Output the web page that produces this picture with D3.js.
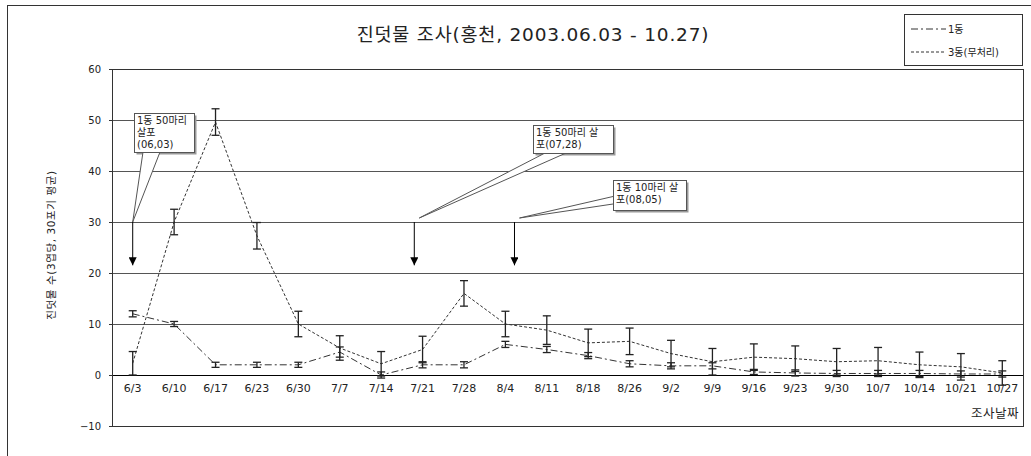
<!DOCTYPE html>
<meta charset="utf-8">
<style>
body { margin: 0; background: #fff; }
text { font-family: "DejaVu Sans", "Noto Sans CJK KR", sans-serif; fill: #222; }
</style>
<svg width="1031" height="456"></svg>
<script src="https://d3js.org/d3.v7.min.js"></script>
<script>

var dates = ["6/3","6/10","6/17","6/23","6/30","7/7","7/14","7/21","7/28","8/4","8/11",
             "8/18","8/26","9/2","9/9","9/16","9/23","9/30","10/7","10/14","10/21","10/27"];
var dong1 = [12, 10, 2, 2, 2, 4.5, 0, 2, 2, 6, 5, 3.8, 2.2, 1.8, 1.8, 0.6, 0.4, 0.3, 0.3, 0.3, 0.2, 0.2];
var err1  = [0.6, 0.5, 0.5, 0.5, 0.5, 1.0, 0.6, 0.6, 0.6, 0.6, 0.6, 0.6, 0.6, 0.6, 0.6, 0.5, 0.6, 0.6, 0.6, 0.6, 0.6, 0.6];
var dong3 = [2.3, 30, 49.6, 27.3, 10, 5.3, 2.2, 5, 16, 10, 8.8, 6.3, 6.6, 4.2, 2.6, 3.5, 3.2, 2.6, 2.8, 2, 1.6, 0.4];
var err3  = [2.3, 2.5, 2.6, 2.6, 2.5, 2.4, 2.4, 2.6, 2.5, 2.5, 2.8, 2.7, 2.6, 2.6, 2.6, 2.6, 2.5, 2.6, 2.6, 2.5, 2.6, 2.4];
var yTicks = [-10, 0, 10, 20, 30, 40, 50, 60];

var seriesNames = ["1동", "3동(무처리)"];
var dashes = ["7,3,2,3", "3,2"];

// callouts: arrow position (fractional date index), box text
var notes = [
  {at: 0,    text: ["1동 50마리", "살포", "(06,03)"], bx: 134, by: 113, bw: 60, bh: 39, tail: [143, 160]},
  {at: 6.8,  text: ["1동 50마리 살", "포(07,28)"],     bx: 533, by: 125, bw: 80, bh: 28, tail: [545, 566]},
  {at: 9.22, text: ["1동 10마리 살", "포(08,05)"],     bx: 613, by: 180, bw: 73, bh: 30, tail: null}
];

var svg = d3.select("svg"),
    margin = {top: 69, left: 112},
    width = 1023 - margin.left,
    height = 426 - margin.top;

// outer frame
svg.append("rect").attr("x", 7.5).attr("y", 5.5).attr("width", 1040).attr("height", 470)
    .attr("fill", "none").attr("stroke", "#333");

var x = d3.scaleBand().domain(dates).range([margin.left, margin.left + width]).padding(0),
    xi = d3.scaleLinear().domain([0, dates.length - 1])
        .range([x(dates[0]) + x.bandwidth() / 2, x(dates[dates.length - 1]) + x.bandwidth() / 2]),
    y = d3.scaleLinear().domain([-10, 60]).range([margin.top + height, margin.top]);

var cx = function(i) { return x(dates[i]) + x.bandwidth() / 2; };

// gridlines
svg.append("g").selectAll("line")
    .data(yTicks.filter(function(t) { return t > -10 && t < 60; }))
  .enter().append("line")
    .attr("x1", margin.left - 3).attr("x2", margin.left + width)
    .attr("y1", function(d) { return Math.round(y(d)) + 0.5; })
    .attr("y2", function(d) { return Math.round(y(d)) + 0.5; })
    .attr("stroke", function(d) { return d === 0 ? "#000" : "#555"; });

svg.append("rect")
    .attr("x", margin.left + 0.5).attr("y", margin.top + 0.5)
    .attr("width", width).attr("height", height)
    .attr("fill", "none").attr("stroke", "#333");

// y axis labels
var yAxis = d3.axisLeft(y).tickValues(yTicks).tickSize(3).tickPadding(8);
var gy = svg.append("g").attr("transform", "translate(" + margin.left + ",0)").call(yAxis);
gy.select(".domain").remove();
gy.selectAll("line").attr("stroke", "#333");
gy.selectAll("text").attr("font-size", 10).attr("fill", "#222")
    .style("font-family", "'DejaVu Sans', sans-serif");

// x axis labels
var xAxis = d3.axisBottom(x).tickSize(0).tickPadding(9);
var gx = svg.append("g").attr("transform", "translate(0," + y(0) + ")").call(xAxis);
gx.select(".domain").remove();
gx.selectAll("text").attr("font-size", 11).attr("fill", "#222")
    .style("font-family", "'DejaVu Sans', sans-serif");

// title and axis titles
svg.append("text").attr("x", 533).attr("y", 41).attr("text-anchor", "middle")
    .attr("font-size", 18.5).attr("letter-spacing", 0.8).attr("fill", "#3a3a3a")
    .text("진덧물 조사(홍천, 2003.06.03 - 10.27)");
svg.append("text").attr("x", 1019).attr("y", 418).attr("text-anchor", "end")
    .attr("font-size", 12.5).attr("letter-spacing", 0.5).text("조사날짜");
svg.append("text").attr("transform", "translate(55,245) rotate(-90)")
    .attr("text-anchor", "middle").attr("font-size", 10.5).attr("letter-spacing", 0.6)
    .attr("fill", "#222")
    .text("진덧물 수(3엽당, 30포기 평균)");

// lines
var line = d3.line().x(function(d, i) { return cx(i); }).y(function(d) { return y(d); });
[dong1, dong3].forEach(function(s, k) {
  svg.append("path").datum(s).attr("d", line)
      .attr("fill", "none").attr("stroke", "#333").attr("stroke-width", 1)
      .attr("stroke-dasharray", dashes[k]);
});

// error bars
[[dong1, err1], [dong3, err3]].forEach(function(p) {
  var g = svg.append("g").attr("stroke", "#222").attr("stroke-width", 1.3);
  p[0].forEach(function(v, i) {
    var lo = y(v - p[1][i]), hi = y(v + p[1][i]), xx = cx(i);
    g.append("line").attr("x1", xx).attr("x2", xx).attr("y1", lo).attr("y2", hi);
    g.append("line").attr("x1", xx - 4).attr("x2", xx + 4).attr("y1", lo).attr("y2", lo);
    g.append("line").attr("x1", xx - 4).attr("x2", xx + 4).attr("y1", hi).attr("y2", hi);
  });
});

// arrows
svg.append("defs").append("marker").attr("id", "ah")
    .attr("viewBox", "0 0 10 10").attr("refX", 10).attr("refY", 5)
    .attr("markerWidth", 8).attr("markerHeight", 8).attr("markerUnits", "userSpaceOnUse")
    .attr("orient", "auto")
  .append("path").attr("d", "M0,0L10,5L0,10z").attr("fill", "#000");

notes.forEach(function(n) {
  var ax = xi(n.at);
  svg.append("line").attr("x1", ax).attr("x2", ax).attr("y1", y(30)).attr("y2", y(21.5))
      .attr("stroke", "#000").attr("marker-end", "url(#ah)");
  // tail
  var tip = [ax + (n.at > 0 ? 5 : 0), y(30) - (n.at > 0 ? 4 : 0)], pts;
  if (n.tail) {
    pts = [[n.tail[0], n.by + n.bh], tip, [n.tail[1], n.by + n.bh]];
  } else {
    pts = [[n.bx, n.by + n.bh * 0.55], tip, [n.bx, n.by + n.bh * 0.8]];
  }
  svg.append("rect").attr("x", n.bx + 2.5).attr("y", n.by + 2.5).attr("width", n.bw).attr("height", n.bh)
      .attr("fill", "#999");
  svg.append("path").attr("d", "M" + pts.join("L")).attr("fill", "#fff").attr("stroke", "#555");
  svg.append("rect").attr("x", n.bx + 0.5).attr("y", n.by + 0.5).attr("width", n.bw).attr("height", n.bh)
      .attr("fill", "#fff").attr("stroke", "#555");
  n.text.forEach(function(t, j) {
    svg.append("text").attr("x", n.bx + 3).attr("y", n.by + 11 + j * 12)
        .attr("font-size", 10).text(t);
  });
});

// legend
var lg = svg.append("g");
lg.append("rect").attr("x", 904.5).attr("y", 14.5).attr("width", 118).attr("height", 51)
    .attr("fill", "#fff").attr("stroke", "#333");
seriesNames.forEach(function(nm, k) {
  var ly = 29 + k * 23;
  lg.append("line").attr("x1", 911).attr("x2", 946).attr("y1", ly).attr("y2", ly)
      .attr("stroke", "#333").attr("stroke-dasharray", dashes[k]);
  lg.append("text").attr("x", 948).attr("y", ly + 4).attr("font-size", 10).text(nm);
});

</script>
